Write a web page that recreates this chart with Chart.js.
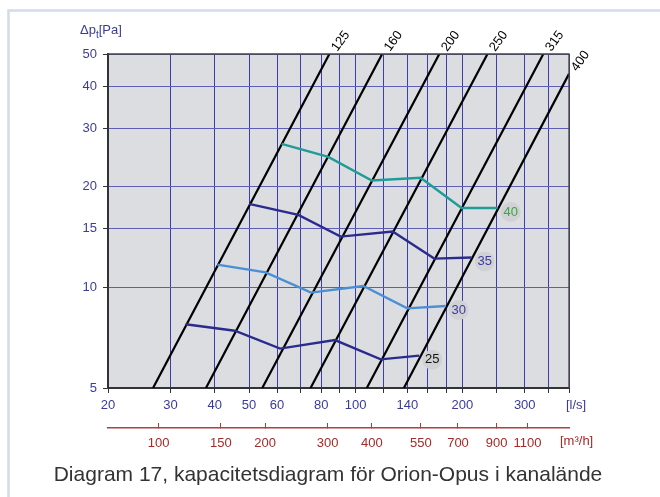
<!DOCTYPE html>
<html><head><meta charset="utf-8">
<script src="https://cdn.jsdelivr.net/npm/chart.js@4.4.1/dist/chart.umd.min.js"></script>
<style>html,body{margin:0;padding:0;background:#fff;overflow:hidden}canvas{display:block}</style>
</head><body>
<canvas id="c" width="660" height="497"></canvas>
<script>
// ---- data ----
const flowTicks = [20,30,40,50,60,70,80,90,100,120,140,160,180,200,250,300,350,400];
const flowLabels = [20,30,40,50,60,80,100,140,200,300];
const pressureTicks = [5,10,15,20,30,40,50];
const m3hTicks = [100,150,200,300,400,550,700,900,1100];

const ductSizes = ['125','160','200','250','315','400'];
const ductFlowLow = [26.8,37.8,54.5,74.6,107.5,136.8];
const ductPressLow = [5,5,5,5,5,5];
const ductFlowHigh = [84.3,118.8,172.2,235.5,338.5,400];
const ductPressHigh = [50,50,50,50,50,43.6];

const seriesNames = ['40','35','30','25'];
const flow40 = [61.8,83.7,111.0,152.5,199,251.6];
const dp40 = [26.9,24.6,20.9,21.3,17.3,17.3];
const flow35 = [50.0,68.9,90.7,127.2,166.6,212.5];
const dp35 = [17.8,16.5,14.2,14.7,12.2,12.3];
const flow30 = [40.7,55.7,74.8,105.1,139.8,179.5];
const dp30 = [11.7,11.1,9.65,10.1,8.66,8.8];
const flow25 = [33.1,45.6,61.2,87.4,117.7,151.1];
const dp25 = [7.76,7.42,6.56,6.96,6.09,6.25];

const captionText = 'Diagram 17, kapacitetsdiagram för Orion-Opus i kanalände';

// ---- styling ----
const seriesColors = ['#1f9c97','#2b2b8e','#4a8fd6','#2b2b8e'];
const labelColors = ['#36a844','#3b3ba0','#3b3ba0','#111111'];
const tickBlue = '#3b3b9b';
const red = '#a52a2a';
const FONT = '"Liberation Sans", Arial, sans-serif';

const pts = (xs, ys) => xs.map((x, i) => ({x, y: ys[i]}));
const seriesData = [pts(flow40, dp40), pts(flow35, dp35), pts(flow30, dp30), pts(flow25, dp25)];

const datasets = [];
seriesData.forEach((d, i) => datasets.push({
  label: seriesNames[i], data: d, borderColor: seriesColors[i], borderWidth: 2.4,
  pointRadius: 0, tension: 0, xAxisID: 'x', yAxisID: 'y'
}));
ductSizes.forEach((s, i) => datasets.push({
  label: s, data: [{x: ductFlowLow[i], y: ductPressLow[i]}, {x: ductFlowHigh[i], y: ductPressHigh[i]}],
  borderColor: '#000', borderWidth: 2.2, pointRadius: 0, tension: 0, xAxisID: 'x', yAxisID: 'y'
}));

const extras = {
  id: 'extras',
  beforeDraw(chart) {
    const {ctx, chartArea: a} = chart;
    ctx.save();
    ctx.fillStyle = '#fff'; ctx.fillRect(0, 0, chart.width, chart.height);
    ctx.strokeStyle = '#d3dbea'; ctx.lineWidth = 2.5;
    ctx.beginPath(); ctx.moveTo(8.5, chart.height); ctx.lineTo(8.5, 10.5); ctx.lineTo(chart.width, 10.5); ctx.stroke();
    ctx.fillStyle = '#dcdde0'; ctx.fillRect(a.left, a.top, a.right - a.left, a.bottom - a.top);
    ctx.restore();
  },
  afterDraw(chart) {
    const {ctx, chartArea: a} = chart;
    const xs = chart.scales.x, ys = chart.scales.y;
    ctx.save();
    // top/right frame
    ctx.strokeStyle = '#444'; ctx.lineWidth = 1.3;
    ctx.beginPath(); ctx.moveTo(a.left, a.top); ctx.lineTo(a.right, a.top); ctx.lineTo(a.right, a.bottom); ctx.stroke();
    // duct size labels (rotated)
    ctx.fillStyle = '#000'; ctx.font = '13px ' + FONT; ctx.textAlign = 'left'; ctx.textBaseline = 'middle';
    ductSizes.forEach((s, i) => {
      const px = xs.getPixelForValue(ductFlowHigh[i]), py = ys.getPixelForValue(ductPressHigh[i]);
      ctx.save(); ctx.translate(px + 5, py - 4); ctx.rotate(-54 * Math.PI / 180);
      ctx.fillText(s, 0, 0); ctx.restore();
    });
    // series end labels
    ctx.font = '13px ' + FONT; ctx.textAlign = 'center'; ctx.textBaseline = 'middle';
    seriesData.forEach((d, i) => {
      const last = d[d.length - 1];
      const px = xs.getPixelForValue(last.x) + 13, py = ys.getPixelForValue(last.y) + 4;
      ctx.fillStyle = '#d0d1d4'; ctx.beginPath(); ctx.arc(px, py, 10, 0, Math.PI * 2); ctx.fill();
      ctx.fillStyle = labelColors[i]; ctx.fillText(seriesNames[i], px, py);
    });
    // axis titles
    ctx.textAlign = 'left'; ctx.textBaseline = 'alphabetic'; ctx.fillStyle = tickBlue;
    ctx.font = '13px ' + FONT;
    let tx = 80; ctx.fillText('Δp', tx, 34); tx += ctx.measureText('Δp').width;
    ctx.font = '10px ' + FONT; ctx.fillText('t', tx, 38); tx += ctx.measureText('t').width;
    ctx.font = '13px ' + FONT; ctx.fillText('[Pa]', tx, 34);
    ctx.textBaseline = 'middle';
    ctx.fillText('[l/s]', 566, 405);
    ctx.fillStyle = red; ctx.fillText('[m³/h]', 560, 441);
    // caption
    ctx.fillStyle = '#333'; ctx.font = '21px ' + FONT; ctx.textAlign = 'center'; ctx.textBaseline = 'alphabetic';
    ctx.fillText(captionText, 328, 481);
    ctx.restore();
  }
};

new Chart(document.getElementById('c'), {
  type: 'line',
  data: { datasets },
  options: {
    responsive: false, animation: false, devicePixelRatio: 1,
    layout: { padding: { left: 0, top: 54, right: 91, bottom: 0 } },
    plugins: { legend: { display: false }, tooltip: { enabled: false } },
    scales: {
      x: {
        type: 'logarithmic', position: 'bottom', min: 20, max: 400,
        afterBuildTicks: s => { s.ticks = flowTicks.map(v => ({value: v})); },
        afterFit: s => { s.height = 40; },
        ticks: { callback: v => flowLabels.includes(v) ? String(v) : '', color: tickBlue,
                 font: { size: 13, family: FONT }, padding: 5, maxRotation: 0, autoSkip: false },
        grid: { color: '#3d3dab', lineWidth: 1, tickLength: 5, tickColor: '#333' },
        border: { color: '#333', width: 2 }
      },
      x2: {
        type: 'logarithmic', position: 'bottom', min: 72, max: 1440,
        afterBuildTicks: s => { s.ticks = m3hTicks.map(v => ({value: v})); },
        afterFit: s => { s.height = 69; },
        ticks: { callback: v => String(v), color: red, font: { size: 13, family: FONT },
                 padding: 13, maxRotation: 0, autoSkip: false },
        grid: { drawOnChartArea: false, tickLength: -5, tickColor: '#b03a3a', color: '#b03a3a' },
        border: { color: '#b04040', width: 1.5 }
      },
      y: {
        type: 'logarithmic', position: 'left', min: 5, max: 50,
        afterBuildTicks: s => { s.ticks = pressureTicks.map(v => ({value: v})); },
        afterFit: s => { s.width = 108; },
        ticks: { callback: v => String(v), color: tickBlue, font: { size: 13, family: FONT }, padding: 6, autoSkip: false },
        grid: { color: '#5e5eb6', lineWidth: 1, tickLength: 5, tickColor: '#333' },
        border: { color: '#333', width: 2 }
      }
    }
  },
  plugins: [extras]
});
</script>
</body></html>
